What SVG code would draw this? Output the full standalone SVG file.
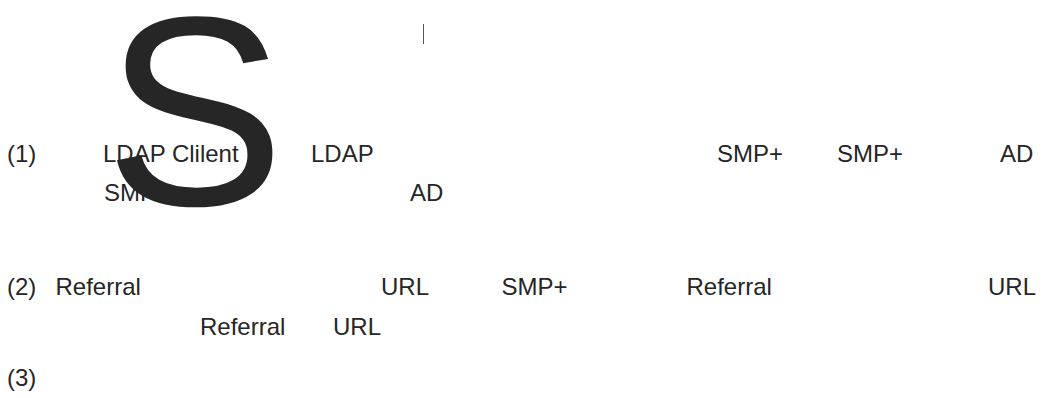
<svg xmlns="http://www.w3.org/2000/svg" width="1043" height="398" viewBox="0 0 1043 398">
<style>
.t{font-family:"Liberation Sans",Arial,sans-serif;font-size:24px;fill:#262626}
.big{font-family:"Liberation Sans",Arial,sans-serif;font-size:270px;fill:#262626}
</style>
<rect width="1043" height="398" fill="#ffffff"/>
<line x1="423.5" y1="24" x2="423.5" y2="44" stroke="#555555" stroke-width="1"/>
<g id="row1">
<text class="t" x="7" y="162">(1)</text>
<text class="t" x="103" y="162">LDAP Clilent</text>
<text class="t" x="311" y="162">LDAP</text>
<text class="t" x="717" y="162">SMP+</text>
<text class="t" x="837" y="162">SMP+</text>
<text class="t" x="1000" y="162">AD</text>
<text class="t" x="104" y="201">SMP+</text>
<text class="t" x="410" y="201">AD</text>
</g>
<g id="row2">
<text class="t" x="7" y="295">(2)</text>
<text class="t" x="55.5" y="295">Referral</text>
<text class="t" x="381" y="295">URL</text>
<text class="t" x="501.5" y="295">SMP+</text>
<text class="t" x="686.5" y="295">Referral</text>
<text class="t" x="988" y="295">URL</text>
<text class="t" x="200" y="335">Referral</text>
<text class="t" x="333" y="335">URL</text>
</g>
<g id="row3">
<text class="t" x="7" y="386">(3)</text>
</g>
<text class="big" x="104.7" y="204.7">S</text>
</svg>
